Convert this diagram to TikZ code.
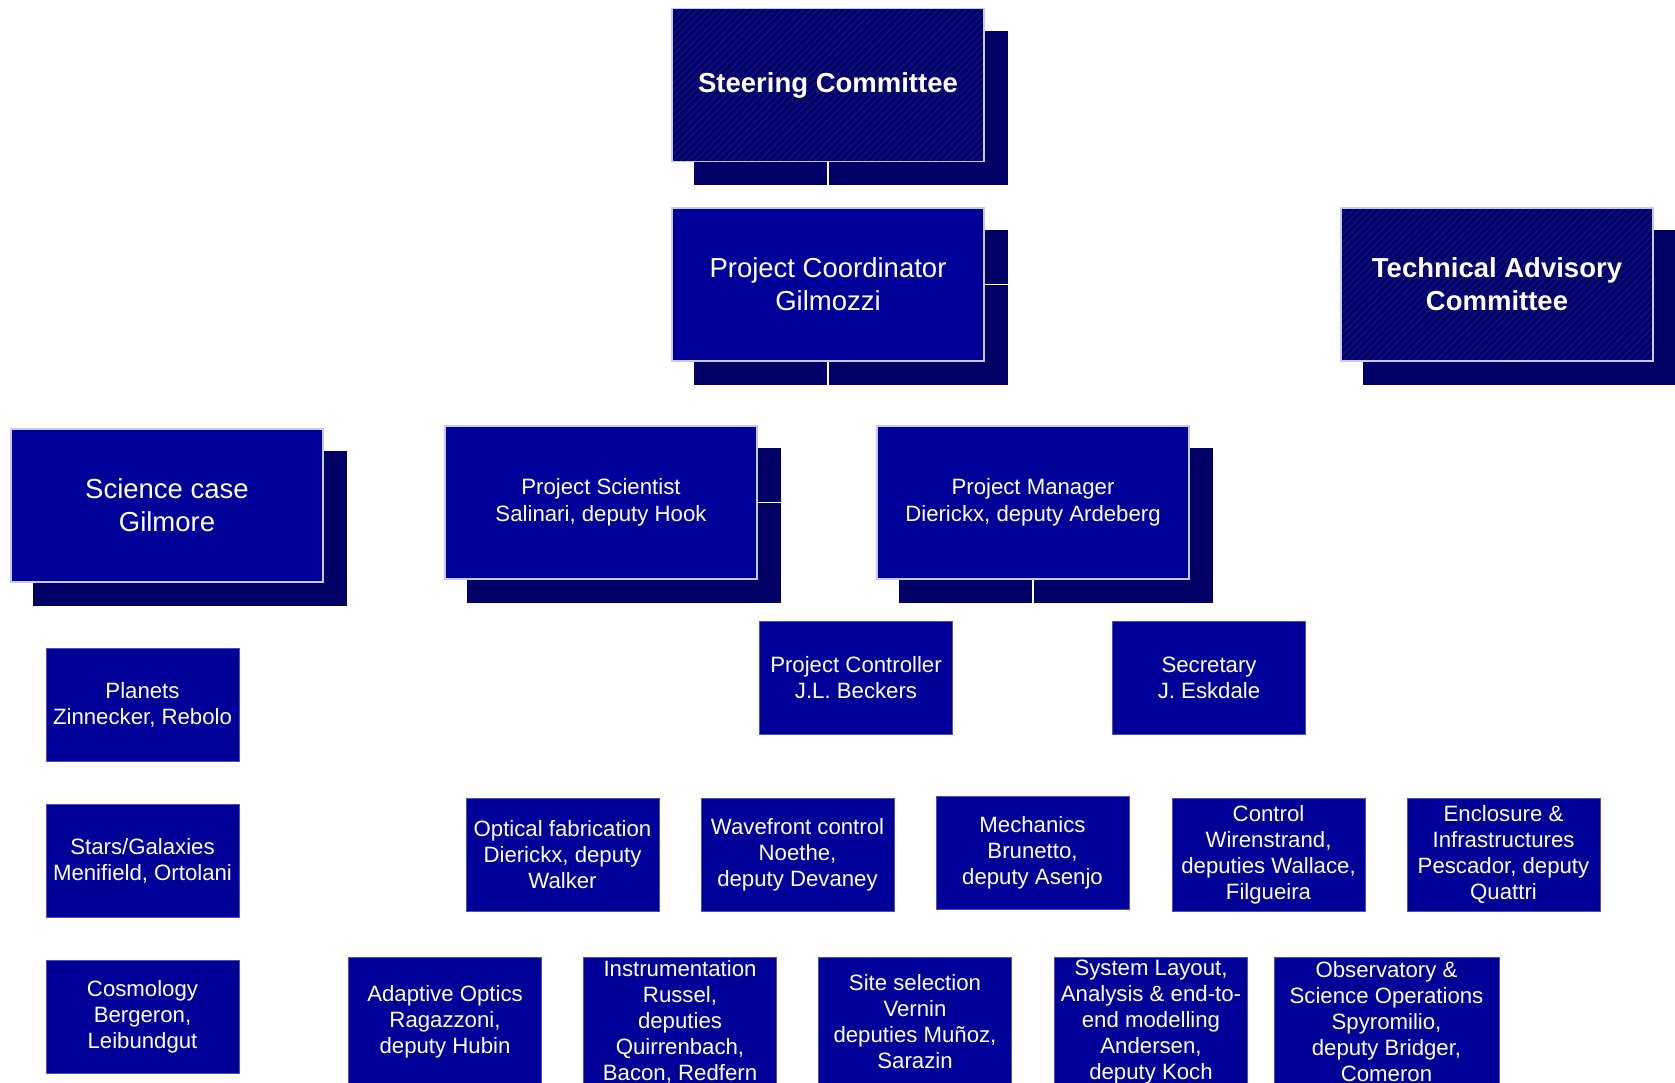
\documentclass[tikz,border=0pt]{standalone}
\usepackage{fontspec}
\setmainfont{Liberation Sans}
\usetikzlibrary{patterns.meta}

\definecolor{boxblue}{HTML}{000099}
\definecolor{darkblue}{HTML}{000066}
\definecolor{hatchblue}{HTML}{16168C}
\definecolor{rimblue}{HTML}{C8C8F0}
\definecolor{edgeblue}{HTML}{5050BB}

\pgfdeclarelayer{back}
\pgfdeclarelayer{links}
\pgfsetlayers{back,links,main}

\newcommand{\shadowbox}[1]{%
  \fill[darkblue] ([xshift=23pt,yshift=-23pt]#1.south west) rectangle ([xshift=23pt,yshift=-23pt]#1.north east);}

\begin{document}
\begin{tikzpicture}[x=1pt,y=-1pt,
  office/.style={fill=boxblue,draw=rimblue,line width=1.2pt,minimum width=312pt,minimum height=153pt,
    inner sep=0pt,align=center,text=white,font=\fontsize{27.5}{33}\selectfont},
  board/.style={office,fill=darkblue,draw=none,font=\fontsize{27.5}{33}\selectfont\bfseries,
    postaction={pattern={Lines[angle=45,distance=5pt,line width=0.9pt]},pattern color=hatchblue},
    postaction={draw=rimblue,line width=1.2pt}},
  lead/.style={office,font=\fontsize{22.2}{27.5}\selectfont},
  unit/.style={fill=boxblue,draw=edgeblue,line width=0.8pt,minimum width=193pt,minimum height=113pt,
    inner sep=0pt,align=center,text=white,font=\fontsize{22.2}{26}\selectfont},
  wp/.style={unit,minimum height=130pt},
  link/.style={draw=white,line width=1.5pt}]
   \useasboundingbox (0,0) rectangle (1675,1082);

   % top of the chart
   \node[board]  (steer)   at (828,85)      {Steering Committee};
   \node[office] (coord)   at (828,284.5)   {Project Coordinator\\Gilmozzi};
   \node[board]  (tac)     at (1497,284.5)  {Technical Advisory\\Committee};
   \node[office] (sci)     at (167,505.5)   {Science case\\Gilmore};
   \node[lead]   (pscient) at (601,502.5)   {Project Scientist\\Salinari, deputy Hook};
   \node[lead]   (pman)    at (1033,502.5)  {Project Manager\\Dierickx, deputy Ardeberg};
   \node[unit]   (pctrl)   at (856,677.5)   {Project Controller\\J.L. Beckers};
   \node[unit]   (secr)    at (1209,677.5)  {Secretary\\J. Eskdale};

   % science
   \node[unit] (plan)  at (142.5,705)  {Planets\\Zinnecker, Rebolo};
   \node[unit] (stars) at (142.5,861)  {Stars/Galaxies\\Menifield, Ortolani};
   \node[unit] (cosmo) at (142.5,1017) {Cosmology\\Bergeron,\\Leibundgut};

   % work packages
   \node[unit] (optic) at (562.5,854.5)  {Optical fabrication\\Dierickx, deputy\\Walker};
   \node[unit] (wfc)   at (797.5,854.5)  {Wavefront control\\Noethe,\\deputy Devaney};
   \node[unit] (mech)  at (1032.5,852.5) {Mechanics\\Brunetto,\\deputy Asenjo};
   \node[unit] (ctrl)  at (1268.5,854.5) {Control\\Wirenstrand,\\deputies Wallace,\\Filgueira};
   \node[unit] (encl)  at (1503.5,854.5) {Enclosure \&\\Infrastructures\\Pescador, deputy\\Quattri};

   \node[wp] (ao)   at (445,1022)  {Adaptive Optics\\Ragazzoni,\\deputy Hubin};
   \node[wp] (inst) at (680,1022)  {Instrumentation\\Russel,\\deputies\\Quirrenbach,\\Bacon, Redfern};
   \node[wp] (site) at (915,1022)  {Site selection\\Vernin\\deputies Muñoz,\\Sarazin};
   \node[wp] (sys)  at (1151,1022) {System Layout,\\Analysis \& end-to-\\end modelling\\Andersen,\\deputy Koch};
   \node[wp,minimum width=225pt] (obs) at (1386.5,1022) {Observatory \&\\Science Operations\\Spyromilio,\\deputy Bridger,\\Comeron};

   \begin{pgfonlayer}{back}
     \shadowbox{steer} \shadowbox{coord} \shadowbox{tac} \shadowbox{sci}
     \shadowbox{pscient} \shadowbox{pman}
   \end{pgfonlayer}

   \begin{pgfonlayer}{links}
     \draw[link] (steer) -- (coord);
     \draw[link] (coord) -- (tac);
     \draw[link] (coord.south) -- ++(0,45) -| (pscient.north);
     \draw[link] (coord.south) -- ++(0,45) -| (pman.north);
     \draw[link] (pscient) -- (pman);
     \draw[link] (pman.south) -- ++(0,33) -| (pctrl.north);
     \draw[link] (pman.south) -- ++(0,33) -| (secr.north);
   \end{pgfonlayer}

\end{tikzpicture}
\end{document}
